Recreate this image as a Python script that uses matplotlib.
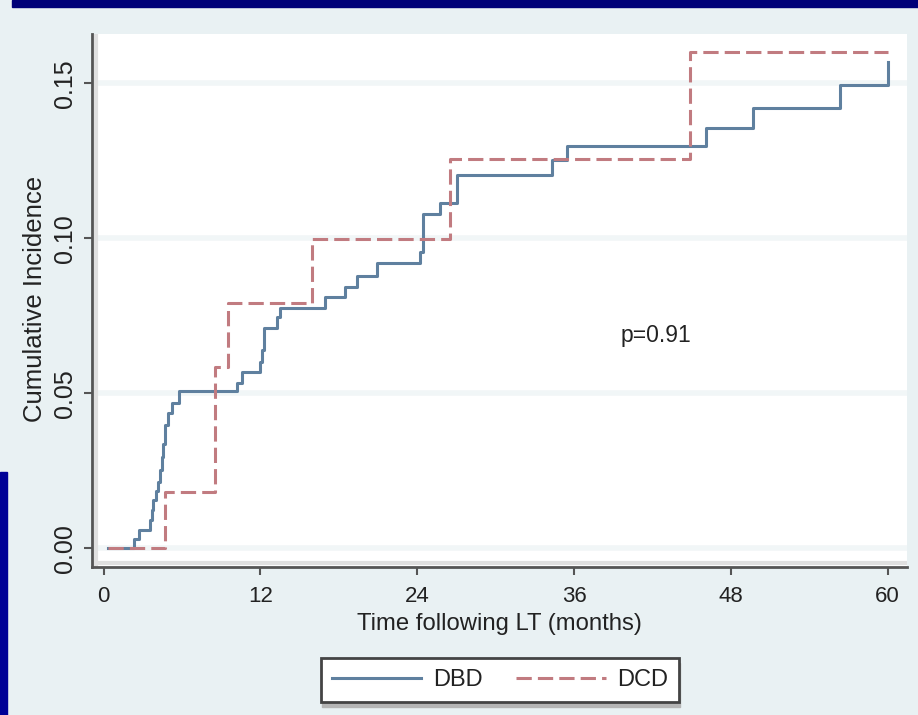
import matplotlib
matplotlib.use("Agg")
import matplotlib.pyplot as plt
from matplotlib.patches import Rectangle
from matplotlib.lines import Line2D
from matplotlib import font_manager


def pick_font(*names):
    for n in names:
        try:
            font_manager.findfont(font_manager.FontProperties(family=n),
                                  fallback_to_default=False)
            return n
        except ValueError:
            pass
    return "DejaVu Sans"


FONT = pick_font("Liberation Sans", "Arimo", "DejaVu Sans")
plt.rcParams["font.family"] = [FONT, "DejaVu Sans"]

# Cumulative incidence after liver transplant, by donor type
dbd_months = [0.35, 2.35, 2.7, 3.55, 3.69, 3.82, 4.0, 4.2, 4.33, 4.46, 4.58,
              4.71, 4.96, 5.22, 5.81, 10.2, 10.58, 11.98, 12.13, 12.25, 13.26,
              13.51, 16.96, 18.49, 19.38, 20.96, 24.23, 24.48, 25.76, 27.04,
              34.31, 35.45, 46.11, 49.73, 56.37, 60.06]
dbd_cuminc = [0.0, 0.0030, 0.0059, 0.0091, 0.0124, 0.0156, 0.0185, 0.0215,
              0.0253, 0.0295, 0.0335, 0.0398, 0.0435, 0.0468, 0.0508, 0.0532,
              0.0570, 0.0602, 0.0640, 0.0710, 0.0747, 0.0774, 0.0812, 0.0844,
              0.0878, 0.0919, 0.0957, 0.1078, 0.1115, 0.1204, 0.1252, 0.1298,
              0.1355, 0.1419, 0.1494, 0.1570]

dcd_months = [0.35, 4.71, 8.54, 9.56, 15.94, 26.52, 44.89, 60.06]
dcd_cuminc = [0.0, 0.0183, 0.0586, 0.0792, 0.0997, 0.1255, 0.1600, 0.1600]

x_ticks = [0, 12, 24, 36, 48, 60]
y_ticks = [0.00, 0.05, 0.10, 0.15]
y_tick_labels = ["0.00", "0.05", "0.10", "0.15"]
p_text = "p=0.91"

W, H = 918, 715
BG = "#e9f1f3"
BLUE = "#5f809f"
RED = "#c17b80"
AXIS = "#555555"
TEXT = "#222222"

fig = plt.figure(figsize=(W / 100, H / 100), dpi=100, facecolor=BG)


def fx(px):
    return px / W


def fy(py):
    return 1 - py / H


# slide decorations
fig.patches.append(Rectangle((fx(12), fy(7)), 1 - fx(12), 7 / H,
                             transform=fig.transFigure, color="#000078",
                             zorder=0))
fig.patches.append(Rectangle((0, 0), fx(7), fy(472),
                             transform=fig.transFigure, color="#000096",
                             zorder=0))

# plot region
left, right, top, bottom = 92, 907, 34, 567
ax = fig.add_axes([fx(left), fy(bottom), (right - left) / W,
                   (bottom - top) / H])
ax.set_facecolor("white")

ax.set_xlim(-0.88, 61.48)
ax.set_ylim(-0.00603, 0.1659)

for s in ("top", "right"):
    ax.spines[s].set_visible(False)
for s in ("left", "bottom"):
    ax.spines[s].set_color(AXIS)
    ax.spines[s].set_linewidth(2.0)

# soft inner edge along the axes
ax.plot([0, 1], [4 / (bottom - top)] * 2, transform=ax.transAxes,
        color="#e0e0e0", lw=3, solid_capstyle="butt", zorder=1)
ax.plot([4 / (right - left)] * 2, [0, 1], transform=ax.transAxes,
        color="#e0e0e0", lw=3, solid_capstyle="butt", zorder=1)

ax.set_yticks(y_ticks)
ax.set_yticklabels(y_tick_labels, rotation=90, va="center")
ax.set_xticks(x_ticks)
ax.set_xticklabels([str(t) for t in x_ticks])
ax.tick_params(axis="x", length=6, width=1.5, color=AXIS, pad=8,
               labelsize=16, labelcolor=TEXT)
ax.tick_params(axis="y", length=6, width=1.5, color=AXIS, pad=5,
               labelsize=18, labelcolor=TEXT)
ax.grid(axis="y", color="#f1f6f7", lw=4)
ax.set_axisbelow(True)

ax.plot(dbd_months, dbd_cuminc, drawstyle="steps-post", color=BLUE,
        lw=2.2, label="DBD", zorder=3)
ax.plot(dcd_months, dcd_cuminc, drawstyle="steps-post", color=RED,
        lw=2.2, dashes=(5.0, 2.0), label="DCD", zorder=3)

ax.text(42.25, 0.0685, p_text, ha="center", va="center", fontsize=16.5,
        color=TEXT)

fig.text(fx(499), fy(624), "Time following LT (months)", ha="center",
         va="center", fontsize=17.2, color=TEXT)
fig.text(fx(42), fy(299), "Cumulative Incidence", ha="center",
         va="baseline", rotation=90, rotation_mode="anchor", fontsize=18.5,
         color=TEXT)

handles = [Line2D([], [], color=BLUE, lw=2.2),
           Line2D([], [], color=RED, lw=2.2, dashes=(5.0, 2.0))]
leg = fig.legend(handles, ["DBD", "DCD"], loc="center",
                 bbox_to_anchor=(fx(500), fy(680)), ncol=2, fontsize=17,
                 frameon=True, fancybox=False, edgecolor="#444444",
                 framealpha=1, facecolor="white", handlelength=3.8,
                 handletextpad=0.5, columnspacing=1.4, borderpad=0.45)
leg.get_frame().set_linewidth(2.0)
for t in leg.get_texts():
    t.set_color(TEXT)

fig.canvas.draw()
bb = leg.get_window_extent().transformed(fig.transFigure.inverted())
fig.patches.append(Rectangle((bb.x0 + 1 / W, bb.y0 - 5 / H), bb.width,
                             bb.height, transform=fig.transFigure,
                             color="#b5b5b5", zorder=0.5))

fig.savefig("out.png", dpi=100, facecolor=BG)
